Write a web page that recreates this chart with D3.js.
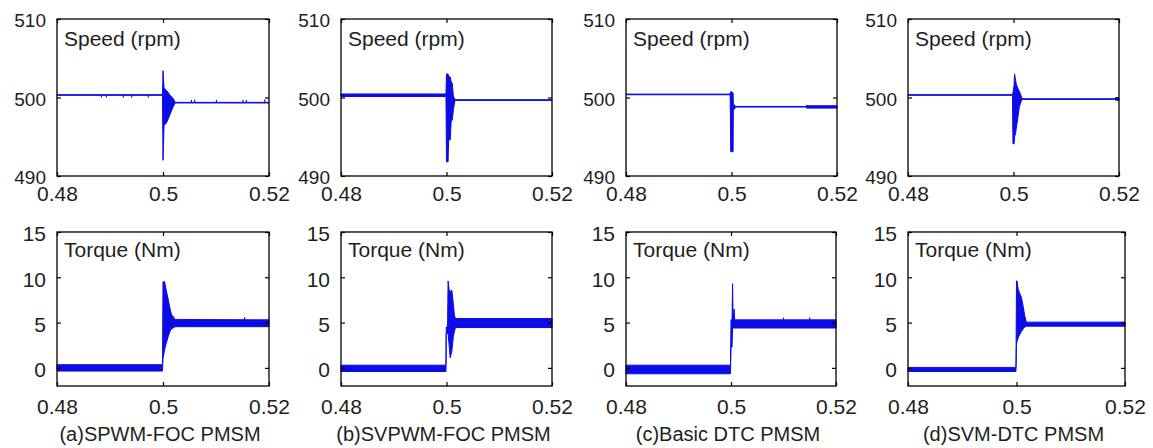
<!DOCTYPE html>
<html>
<head>
<meta charset="utf-8">
<script src="https://cdn.jsdelivr.net/npm/d3@7/dist/d3.min.js"></script>
<style>
  html, body { margin: 0; padding: 0; background: #fff; }
  svg { display: block; }
  text { font-family: 'Liberation Sans', Arial, sans-serif; fill: #1e1e1e; }
</style>
</head>
<body>
<svg id="chart"></svg>
<script>
'use strict';

// axis ticks and labels
var timeTicks   = [0.48, 0.5, 0.52];
var speedTicks  = [490, 500, 510];
var torqueTicks = [0, 5, 10, 15];
var timeDomain   = [0.48, 0.52];
var speedDomain  = [490, 510];
var torqueDomain = [-2, 15];
var speedLabel  = 'Speed (rpm)';
var torqueLabel = 'Torque (Nm)';
var captions = ['(a)SPWM-FOC PMSM', '(b)SVPWM-FOC PMSM', '(c)Basic DTC PMSM', '(d)SVM-DTC PMSM'];

// traces: [time, low, high] envelope of the waveform
var speedA = [
  [0.4800, 500.28, 500.36], [0.4999, 500.28, 500.36],
  [0.5000, 492.0, 503.4], [0.5002, 496.5, 501.2], [0.5006, 496.7, 500.95],
  [0.5010, 497.3, 500.6], [0.5013, 497.8, 500.3], [0.5019, 498.8, 499.9],
  [0.5023, 499.3, 499.38], [0.5200, 499.3, 499.38]
];
var speedB = [
  [0.4800, 500.12, 500.45], [0.4999, 500.12, 500.45],
  [0.5000, 491.8, 503.0], [0.5003, 491.8, 503.0], [0.5004, 494.6, 502.7],
  [0.5007, 494.6, 502.6], [0.5009, 497.1, 502.0], [0.5011, 497.1, 501.8],
  [0.5013, 498.4, 500.2], [0.5016, 499.62, 499.72], [0.5200, 499.62, 499.72]
];
var speedC = [
  [0.4800, 500.35, 500.43], [0.49975, 500.35, 500.43],
  [0.49985, 493.1, 500.75], [0.5003, 493.1, 500.6], [0.50035, 498.6, 499.1],
  [0.5006, 498.5, 499.05], [0.5007, 498.78, 498.86], [0.5140, 498.78, 498.86],
  [0.5142, 498.65, 498.95], [0.5200, 498.65, 498.95]
];
var speedD = [
  [0.4800, 500.28, 500.36], [0.4998, 500.28, 500.36],
  [0.4999, 494.1, 500.6], [0.5001, 494.1, 501.5], [0.5002, 495.0, 503.0],
  [0.5004, 495.4, 502.2], [0.5005, 496.0, 501.8], [0.5008, 497.3, 501.2],
  [0.5011, 498.8, 500.8], [0.5014, 499.4, 500.3], [0.5016, 499.76, 499.84],
  [0.5192, 499.76, 499.84], [0.5194, 499.65, 499.95], [0.5200, 499.65, 499.95]
];

var torqueA = [
  [0.4800, -0.35, 0.35], [0.4999, -0.35, 0.35],
  [0.5000, 1.0, 9.5], [0.5003, 2.0, 9.5], [0.5006, 2.7, 8.6],
  [0.5010, 3.5, 7.5], [0.5013, 4.0, 6.6], [0.5016, 4.3, 5.9],
  [0.5023, 4.55, 5.35], [0.5200, 4.55, 5.3]
];
var torqueB = [
  [0.4800, -0.4, 0.3], [0.4999, -0.4, 0.3],
  [0.49995, 3.8, 4.5], [0.5002, 3.8, 4.5], [0.5003, 3.8, 9.6],
  [0.5005, 2.5, 8.6], [0.5007, 1.1, 8.4], [0.5010, 1.8, 8.6],
  [0.5012, 2.9, 7.6], [0.5013, 3.5, 7.0], [0.5015, 4.0, 5.8],
  [0.5017, 4.45, 5.45], [0.5200, 4.45, 5.45]
];
var torqueC = [
  [0.4800, -0.65, 0.3], [0.4999, -0.65, 0.3],
  [0.5000, 2.3, 5.3], [0.5002, 2.3, 5.3], [0.5003, 4.4, 9.3],
  [0.5004, 4.4, 5.3], [0.5006, 4.4, 6.5], [0.5007, 4.4, 5.3],
  [0.5200, 4.4, 5.3]
];
var torqueD = [
  [0.4800, -0.4, 0.05], [0.4999, -0.4, 0.05],
  [0.5000, 2.6, 9.6], [0.5001, 2.9, 9.6], [0.5003, 3.3, 8.7],
  [0.5006, 3.7, 8.2], [0.5009, 4.0, 7.8], [0.5012, 4.3, 6.9],
  [0.5015, 4.5, 5.8], [0.5018, 4.6, 5.05], [0.5200, 4.6, 5.05]
];

// short glitches on the steady lines: [time, from, to]
var glitchSpeedA = [
  [0.48838, 500.28, 500.0], [0.48932, 500.28, 500.0], [0.49251, 500.28, 500.0],
  [0.49409, 500.28, 500.0], [0.49723, 500.28, 500.0],
  [0.50536, 499.38, 499.7], [0.50598, 499.38, 499.7], [0.51008, 499.38, 499.7],
  [0.51509, 499.38, 499.7], [0.51574, 499.38, 499.7], [0.51919, 499.38, 499.75]
];
var glitchSpeedC = [[0.5143, 498.86, 499.05]];
var glitchTorqueA = [[0.5154, 5.3, 5.6]];
var glitchTorqueC = [[0.5100, 5.3, 5.55], [0.5150, 5.3, 5.55]];

// panel boxes in page pixels
var topBoxes = [
  { x0: 57,  x1: 269,  y0: 19, y1: 176 },
  { x0: 341, x1: 552,  y0: 19, y1: 176 },
  { x0: 626, x1: 837,  y0: 19, y1: 176 },
  { x0: 908, x1: 1119, y0: 19, y1: 176 }
];
var bottomBoxes = [
  { x0: 57,  x1: 269,  y0: 232, y1: 386 },
  { x0: 341, x1: 552,  y0: 232, y1: 386 },
  { x0: 626, x1: 836,  y0: 232, y1: 386 },
  { x0: 908, x1: 1125, y0: 232, y1: 386 }
];

var speeds   = [speedA, speedB, speedC, speedD];
var torques  = [torqueA, torqueB, torqueC, torqueD];
var speedGlitches  = [glitchSpeedA, [], glitchSpeedC, []];
var torqueGlitches = [glitchTorqueA, [], glitchTorqueC, []];

var blue = '#0c0ce6';

var svg = d3.select('#chart').attr('width', 1153).attr('height', 448);

function drawPanel(box, trace, glitches, yDomain, yTicks, label, opts) {
  var x = d3.scaleLinear().domain(timeDomain).range([box.x0, box.x1]);
  var y = d3.scaleLinear().domain(yDomain).range([box.y1, box.y0]);
  var g = svg.append('g');

  // trace
  var area = d3.area()
    .x(function(d){ return x(d[0]); })
    .y0(function(d){ return y(d[1]); })
    .y1(function(d){ return y(d[2]); });
  g.append('path').datum(trace)
    .attr('fill', blue).attr('stroke', blue).attr('stroke-width', 1)
    .attr('stroke-linejoin', 'miter').attr('d', area);

  g.selectAll('line.glitch').data(glitches).enter().append('line')
    .attr('class', 'glitch')
    .attr('x1', function(d){ return x(d[0]); }).attr('x2', function(d){ return x(d[0]); })
    .attr('y1', function(d){ return y(d[1]); }).attr('y2', function(d){ return y(d[2]); })
    .attr('stroke', blue).attr('stroke-width', 1.2);

  // inward ticks on all four sides
  var tk = 4;
  var bottomAxis = g.append('g').attr('transform', 'translate(0,' + box.y1 + ')')
    .call(d3.axisBottom(x).tickValues(timeTicks).tickSize(-tk).tickSizeOuter(0)
      .tickPadding(opts.xPad).tickFormat(function(d){ return String(d); }));
  var topAxis = g.append('g').attr('transform', 'translate(0,' + box.y0 + ')')
    .call(d3.axisTop(x).tickValues(timeTicks).tickSize(-tk).tickSizeOuter(0).tickFormat(''));
  var leftAxis = g.append('g').attr('transform', 'translate(' + box.x0 + ',0)')
    .call(d3.axisLeft(y).tickValues(yTicks).tickSize(-tk).tickSizeOuter(0).tickPadding(11));
  var rightAxis = g.append('g').attr('transform', 'translate(' + box.x1 + ',0)')
    .call(d3.axisRight(y).tickValues(yTicks).tickSize(-tk).tickSizeOuter(0).tickFormat(''));

  [bottomAxis, topAxis, leftAxis, rightAxis].forEach(function(a){
    a.select('.domain').remove();
    a.selectAll('.tick line').attr('stroke', '#000').attr('stroke-width', 1.2);
    a.attr('font-family', null).attr('font-size', null);
  });
  bottomAxis.selectAll('.tick text').attr('font-size', 21).attr('fill', '#1e1e1e');
  leftAxis.selectAll('.tick text').attr('font-size', opts.yFont).attr('fill', '#1e1e1e')
    .attr('dy', '0.42em');

  // frame
  g.append('rect')
    .attr('x', box.x0).attr('y', box.y0)
    .attr('width', box.x1 - box.x0).attr('height', box.y1 - box.y0)
    .attr('fill', 'none').attr('stroke', '#000').attr('stroke-width', 1.3);

  // label inside the box
  g.append('text')
    .attr('x', box.x0 + 7).attr('y', box.y0 + opts.labelDy)
    .attr('font-size', 21).text(label);

  return x;
}

topBoxes.forEach(function(box, i){
  drawPanel(box, speeds[i], speedGlitches[i], speedDomain, speedTicks, speedLabel,
    { xPad: 10, yFont: 19, labelDy: 27 });
});

bottomBoxes.forEach(function(box, i){
  drawPanel(box, torques[i], torqueGlitches[i], torqueDomain, torqueTicks, torqueLabel,
    { xPad: 13, yFont: 21, labelDy: 25 });
  svg.append('text')
    .attr('x', (box.x0 + box.x1) / 2 - 3).attr('y', 441)
    .attr('text-anchor', 'middle').attr('font-size', 20)
    .text(captions[i]);
});
</script>
</body>
</html>
